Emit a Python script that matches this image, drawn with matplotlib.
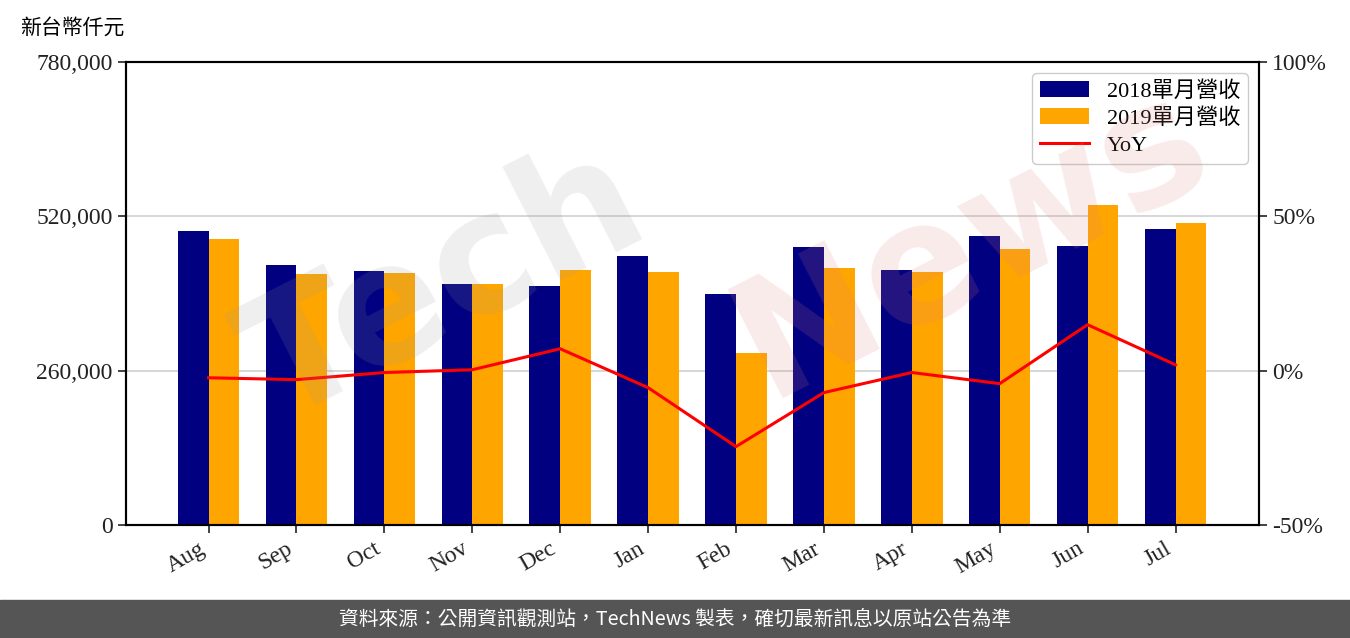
import matplotlib
matplotlib.use('Agg')
import matplotlib.pyplot as plt
import numpy as np
from matplotlib.ticker import FuncFormatter

plt.rcParams['font.family'] = ['Liberation Serif', 'Noto Sans CJK TC']

months = ['Aug', 'Sep', 'Oct', 'Nov', 'Dec', 'Jan', 'Feb', 'Mar', 'Apr', 'May', 'Jun', 'Jul']
rev_2018 = [495300, 438000, 427900, 406000, 402600, 453200, 389200, 468300, 429600, 486900, 470000, 498700]
rev_2019 = [481800, 422900, 424500, 406000, 429600, 426200, 289800, 433000, 426200, 465000, 539100, 508800]
yoy = [-2.3, -2.9, -0.6, 0.3, 7.1, -5.5, -24.6, -7.1, -0.6, -4.2, 14.9, 1.9]

fig = plt.figure(figsize=(13.5, 6.38), dpi=100)
ax = fig.add_axes([0.0933, 0.1771, 0.8393, 0.7257])
ax2 = ax.twinx()

x = np.arange(len(months))
w = 0.35
ax.bar(x - w / 2, rev_2018, w, color='#000080', label='2018單月營收', zorder=2)
ax.bar(x + w / 2, rev_2019, w, color='#FFA500', label='2019單月營收', zorder=2)

ax.set_ylim(0, 780000)
ax.set_yticks([0, 260000, 520000, 780000])
ax.yaxis.set_major_formatter(FuncFormatter(lambda v, p: f'{int(v):,}'))
ax.grid(axis='y', color='#d0d0d0', linewidth=1.2, zorder=0)
ax.set_axisbelow(True)
ax.set_xlim(-0.94, 11.95)
ax.set_xticks(x)
ax.set_xticklabels(months, rotation=30, ha='right')

ax2.plot(x, yoy, color='red', linewidth=2.2, label='YoY', zorder=3)
ax2.set_ylim(-50, 100)
ax2.set_yticks([-50, 0, 50, 100])
ax2.yaxis.set_major_formatter(FuncFormatter(lambda v, p: f'{int(v)}%'))

for a in (ax, ax2):
    a.tick_params(labelsize=17, length=6, width=1.2, colors='#222222')
    for s in a.spines.values():
        s.set_linewidth(1.5)

h1, l1 = ax.get_legend_handles_labels()
h2, l2 = ax2.get_legend_handles_labels()
ax2.legend(h1 + h2, l1 + l2, loc='upper right', fontsize=16, framealpha=1,
           edgecolor='#cccccc', handlelength=2.2, borderpad=0.35, labelspacing=0.3)

fig.text(0.015, 0.955, '新台幣仟元', fontsize=15, ha='left', va='center')

# watermark
fig.text(0.33, 0.55, 'Tech', fontsize=120, fontweight='bold', color='#999999',
         alpha=0.16, rotation=27, ha='center', va='center', family='DejaVu Sans')
fig.text(0.72, 0.62, 'News', fontsize=120, fontweight='bold', color='#e08080',
         alpha=0.16, rotation=27, ha='center', va='center', family='DejaVu Sans')

# footer
fig.patches.append(plt.Rectangle((0, 0), 1, 38 / 638, transform=fig.transFigure,
                                 color='#555555', zorder=0))
fig.text(0.5, 19 / 638, '資料來源：公開資訊觀測站，TechNews 製表，確切最新訊息以原站公告為準',
         color='white', fontsize=14.2, ha='center', va='center',
         family=['Noto Sans CJK TC', 'DejaVu Sans'])

fig.savefig('out.png', dpi=100)
